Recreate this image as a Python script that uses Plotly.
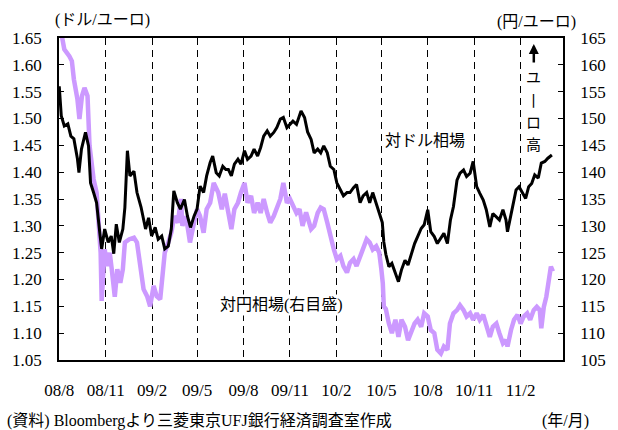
import plotly.graph_objects as go

# Euro vs US dollar (left scale, dollars per euro)
usd_dates = [
    "2008-08-01", "2008-08-05", "2008-08-11", "2008-08-18", "2008-08-24", "2008-08-30",
    "2008-09-06", "2008-09-09", "2008-09-14", "2008-09-22", "2008-09-28", "2008-10-02",
    "2008-10-08", "2008-10-14", "2008-10-21", "2008-10-24", "2008-10-30", "2008-11-06",
    "2008-11-12", "2008-11-17", "2008-11-22", "2008-11-28", "2008-12-05", "2008-12-09",
    "2008-12-14", "2008-12-19", "2008-12-27", "2009-01-02", "2009-01-10", "2009-01-19",
    "2009-01-25", "2009-01-31", "2009-02-07", "2009-02-13", "2009-02-20", "2009-02-26",
    "2009-03-05", "2009-03-11", "2009-03-16", "2009-03-23", "2009-03-29", "2009-04-06",
    "2009-04-12", "2009-04-18", "2009-04-25", "2009-05-01", "2009-05-07", "2009-05-14",
    "2009-05-20", "2009-05-27", "2009-06-01", "2009-06-08", "2009-06-14", "2009-06-21",
    "2009-06-27", "2009-07-02", "2009-07-08", "2009-07-14", "2009-07-21", "2009-07-27",
    "2009-08-03", "2009-08-09", "2009-08-16", "2009-08-22", "2009-08-29", "2009-09-04",
    "2009-09-10", "2009-09-17", "2009-09-23", "2009-09-30", "2009-10-06", "2009-10-13",
    "2009-10-19", "2009-10-26", "2009-11-01", "2009-11-07", "2009-11-14", "2009-11-23",
    "2009-11-30", "2009-12-06", "2009-12-13", "2009-12-19", "2009-12-26", "2010-01-01",
    "2010-01-07", "2010-01-14", "2010-01-20", "2010-01-27", "2010-02-02", "2010-02-09",
    "2010-02-15", "2010-02-22", "2010-02-28", "2010-03-07", "2010-03-13", "2010-03-20",
    "2010-03-26", "2010-04-02", "2010-04-08", "2010-04-14", "2010-04-21", "2010-04-27",
    "2010-05-03", "2010-05-06", "2010-05-10", "2010-05-16", "2010-05-22", "2010-05-29",
    "2010-06-04", "2010-06-10", "2010-06-17", "2010-06-23", "2010-06-30", "2010-07-06",
    "2010-07-12", "2010-07-19", "2010-07-25", "2010-08-01", "2010-08-07", "2010-08-14",
    "2010-08-20", "2010-08-27", "2010-09-02", "2010-09-09", "2010-09-15", "2010-09-21",
    "2010-09-28", "2010-10-04", "2010-10-11", "2010-10-17", "2010-10-24", "2010-10-30",
    "2010-11-06", "2010-11-12", "2010-11-19", "2010-11-25", "2010-12-02", "2010-12-08",
    "2010-12-15", "2010-12-21", "2010-12-28", "2011-01-03", "2011-01-06", "2011-01-13",
    "2011-01-19", "2011-01-23", "2011-01-29", "2011-02-04", "2011-02-11", "2011-02-17",
    "2011-02-23", "2011-03-01", "2011-03-08", "2011-03-14", "2011-03-21", "2011-03-27",
    "2011-04-04",
]
usd_values = [
    1.560, 1.505, 1.486, 1.490, 1.467, 1.462,
    1.425, 1.399, 1.443, 1.474, 1.449, 1.380,
    1.362, 1.343, 1.281, 1.257, 1.294, 1.269,
    1.281, 1.248, 1.303, 1.269, 1.294, 1.334,
    1.440, 1.393, 1.402, 1.362, 1.335, 1.294,
    1.315, 1.281, 1.297, 1.275, 1.281, 1.257,
    1.262, 1.294, 1.365, 1.343, 1.331, 1.349,
    1.318, 1.297, 1.318, 1.331, 1.374, 1.362,
    1.393, 1.418, 1.430, 1.399, 1.393, 1.411,
    1.405, 1.405, 1.393, 1.415, 1.424, 1.415,
    1.440, 1.424, 1.430, 1.443, 1.430, 1.446,
    1.467, 1.477, 1.467, 1.474, 1.483, 1.499,
    1.502, 1.483, 1.489, 1.495, 1.489, 1.514,
    1.502, 1.475, 1.461, 1.436, 1.443, 1.436,
    1.449, 1.436, 1.411, 1.405, 1.380, 1.368,
    1.356, 1.362, 1.362, 1.371, 1.377, 1.343,
    1.356, 1.362, 1.343, 1.362, 1.343, 1.324,
    1.306, 1.270, 1.247, 1.224, 1.230, 1.212,
    1.196, 1.218, 1.236, 1.227, 1.249, 1.267,
    1.280, 1.295, 1.302, 1.330, 1.289, 1.280,
    1.267, 1.277, 1.286, 1.267, 1.311, 1.336,
    1.385, 1.398, 1.404, 1.392, 1.398, 1.420,
    1.373, 1.361, 1.348, 1.330, 1.298, 1.323,
    1.317, 1.311, 1.330, 1.311, 1.289, 1.323,
    1.348, 1.367, 1.373, 1.364, 1.351, 1.373,
    1.379, 1.395, 1.389, 1.417, 1.420, 1.426,
    1.432,
]

# Euro vs Japanese yen (right scale, yen per euro)
jpy_dates = [
    "2008-08-01", "2008-08-05", "2008-08-11", "2008-08-21", "2008-08-26", "2008-08-30",
    "2008-09-06", "2008-09-10", "2008-09-15", "2008-09-20", "2008-09-26", "2008-09-30",
    "2008-10-08", "2008-10-14", "2008-10-19", "2008-10-22", "2008-10-24", "2008-10-30",
    "2008-11-04", "2008-11-09", "2008-11-13", "2008-11-19", "2008-11-24", "2008-11-30",
    "2008-12-05", "2008-12-09", "2008-12-18", "2008-12-27", "2009-01-02", "2009-01-09",
    "2009-01-15", "2009-01-22", "2009-01-28", "2009-02-04", "2009-02-10", "2009-02-17",
    "2009-02-20", "2009-02-26", "2009-03-05", "2009-03-11", "2009-03-17", "2009-03-24",
    "2009-03-30", "2009-04-02", "2009-04-09", "2009-04-17", "2009-04-25", "2009-05-01",
    "2009-05-07", "2009-05-14", "2009-05-20", "2009-05-27", "2009-06-03", "2009-06-12",
    "2009-06-19", "2009-06-25", "2009-07-02", "2009-07-08", "2009-07-14", "2009-07-21",
    "2009-07-27", "2009-08-03", "2009-08-09", "2009-08-16", "2009-08-22", "2009-08-29",
    "2009-09-04", "2009-09-10", "2009-09-17", "2009-09-23", "2009-09-30", "2009-10-06",
    "2009-10-13", "2009-10-19", "2009-10-26", "2009-11-01", "2009-11-07", "2009-11-14",
    "2009-11-20", "2009-11-26", "2009-12-03", "2009-12-08", "2009-12-13", "2009-12-19",
    "2009-12-26", "2010-01-01", "2010-01-07", "2010-01-14", "2010-01-20", "2010-01-27",
    "2010-02-02", "2010-02-09", "2010-02-15", "2010-02-22", "2010-02-28", "2010-03-07",
    "2010-03-13", "2010-03-20", "2010-03-26", "2010-04-02", "2010-04-08", "2010-04-14",
    "2010-04-21", "2010-04-27", "2010-05-01", "2010-05-04", "2010-05-06", "2010-05-10",
    "2010-05-16", "2010-05-22", "2010-05-29", "2010-06-04", "2010-06-10", "2010-06-17",
    "2010-06-23", "2010-06-30", "2010-07-06", "2010-07-12", "2010-07-19", "2010-07-25",
    "2010-08-01", "2010-08-07", "2010-08-14", "2010-08-20", "2010-08-27", "2010-09-02",
    "2010-09-09", "2010-09-14", "2010-09-21", "2010-09-28", "2010-10-04", "2010-10-11",
    "2010-10-17", "2010-10-24", "2010-10-30", "2010-11-06", "2010-11-12", "2010-11-19",
    "2010-11-25", "2010-12-02", "2010-12-08", "2010-12-15", "2010-12-21", "2010-12-28",
    "2011-01-03", "2011-01-06", "2011-01-13", "2011-01-19", "2011-01-26", "2011-02-01",
    "2011-02-07", "2011-02-14", "2011-02-20", "2011-02-27", "2011-03-05", "2011-03-11",
    "2011-03-14", "2011-03-19", "2011-03-24", "2011-03-28", "2011-04-02", "2011-04-06",
]
jpy_values = [
    168.0, 165.5, 162.9, 161.6, 160.7, 157.3,
    153.6, 149.9, 154.2, 155.7, 154.2, 144.9,
    138.7, 136.2, 130.6, 125.0, 116.0, 125.6,
    122.5, 125.0, 121.9, 116.8, 121.9, 119.4,
    121.9, 126.9, 127.5, 127.8, 126.9, 121.9,
    118.2, 116.9, 115.0, 118.8, 116.9, 116.3,
    119.4, 125.0, 126.9, 128.7, 131.8, 130.6,
    135.0, 130.0, 131.8, 126.9, 130.6, 133.1,
    131.8, 128.7, 133.1, 134.3, 138.0, 136.2,
    133.1, 136.0, 132.4, 129.4, 133.1, 134.3,
    136.2, 138.0, 134.3, 135.6, 132.4, 134.3,
    132.4, 135.0, 132.4, 130.6, 131.8, 133.1,
    135.0, 138.0, 134.3, 135.0, 133.7, 132.4,
    133.1, 130.0, 132.5, 130.6, 129.4, 130.0,
    132.4, 133.4, 133.1, 130.6, 128.1, 125.6,
    123.8, 124.4, 122.5, 121.3, 123.1, 123.8,
    122.5, 124.4, 125.6, 127.5, 126.9, 125.6,
    126.2, 125.0, 122.0, 119.3, 115.0, 114.5,
    111.8, 110.0, 112.5, 109.3, 112.5, 111.2,
    108.7, 110.6, 111.8, 112.5, 111.2, 113.7,
    113.1, 110.6, 110.0, 106.9, 106.2, 107.5,
    106.9, 111.8, 113.7, 114.3, 115.2, 114.3,
    113.1, 113.7, 112.5, 113.7, 112.5, 113.4,
    111.2, 109.3, 111.2, 111.8, 110.0, 108.1,
    108.7, 107.5, 110.6, 112.5, 113.4, 111.8,
    113.1, 113.7, 112.5, 114.3, 114.9, 114.3,
    110.9, 114.9, 116.8, 119.9, 122.4, 121.5,
]

FONT = "Liberation Serif, Noto Sans CJK JP, serif"
CJK = "Noto Sans CJK JP, sans-serif"

fig = go.Figure()

# yen line on the base axis, dollar line on the overlay so it sits on top
fig.add_trace(go.Scatter(
    x=jpy_dates, y=jpy_values, mode="lines", yaxis="y",
    line=dict(color="#CC99FF", width=4.5), name="対円相場",
))
fig.add_trace(go.Scatter(
    x=usd_dates, y=usd_values, mode="lines", yaxis="y2",
    line=dict(color="#000000", width=3), name="対ドル相場",
))

fig.update_layout(
    width=618, height=430,
    margin=dict(l=57, r=43, t=38, b=70),
    paper_bgcolor="white", plot_bgcolor="white",
    showlegend=False,
    font=dict(family=FONT, size=16, color="#000"),
    xaxis=dict(
        type="date",
        range=["2008-07-31 12:00", "2011-04-26"],
        tick0="2008-08-01", dtick="M3", tickformat="%y/%-m",
        showgrid=True, gridcolor="#000", gridwidth=1, griddash="7px,5px",
        showline=True, mirror=True, linecolor="#000", linewidth=1.5,
        ticks="", ticklabelstandoff=14,
        tickfont=dict(family=FONT, size=17),
        zeroline=False,
    ),
    yaxis=dict(
        side="right", range=[105, 165], dtick=5, tick0=105,
        showgrid=False, zeroline=False,
        showline=True, mirror=True, linecolor="#000", linewidth=1.5,
        ticks="inside", ticklen=5, tickcolor="#000", tickwidth=1,
        ticklabelstandoff=12,
        tickfont=dict(family=FONT, size=17),
    ),
    yaxis2=dict(
        overlaying="y", side="left", range=[1.05, 1.65], dtick=0.05, tick0=1.05,
        tickformat=".2f",
        showgrid=False, zeroline=False,
        showline=True, linecolor="#000", linewidth=1.5,
        ticks="inside", ticklen=5, tickcolor="#000", tickwidth=1,
        ticklabelstandoff=12,
        tickfont=dict(family=FONT, size=17),
    ),
)


def px_x(px):
    return (px - 57) / 518


def px_y(py):
    return (360 - py) / 322


notes = [
    dict(text="(ドル/ユーロ)", x=px_x(102), y=px_y(20)),
    dict(text="(円/ユーロ)", x=px_x(548), y=px_y(22)),
    dict(text="(年/月)", x=px_x(578), y=px_y(421)),
    dict(text="対ドル相場", x=px_x(433), y=px_y(140), bgcolor="white"),
    dict(text="対円相場(右目盛)", x=px_x(286), y=px_y(305), bgcolor="white"),
]
for n in notes:
    fig.add_annotation(
        xref="paper", yref="paper", showarrow=False,
        xanchor="center", yanchor="middle",
        font=dict(family=FONT, size=16, color="#000"), **n,
    )

fig.add_annotation(
    xref="paper", yref="paper", showarrow=False,
    text="(資料) Bloombergより三菱東京UFJ銀行経済調査室作成",
    x=px_x(2), y=px_y(421), xanchor="left", yanchor="middle",
    font=dict(family=FONT, size=16, color="#000"),
)

# vertical caption "ユーロ高", one character per line
for ch, py in zip(["ユ", "丨", "ロ", "高"], [77, 99, 121, 143]):
    fig.add_annotation(
        xref="paper", yref="paper", showarrow=False,
        text=ch, x=px_x(545), y=px_y(py), xanchor="center", yanchor="middle",
        font=dict(family=CJK, size=15, color="#000"),
        borderpad=0,
    )

# upward arrow marking the direction of a stronger euro
fig.add_annotation(
    xref="paper", yref="paper", x=px_x(545), y=px_y(44),
    ax=0, ay=20, text="", showarrow=True,
    arrowhead=2, arrowsize=0.8, arrowwidth=2.5, arrowcolor="#000",
)

fig.write_html("out.html")
